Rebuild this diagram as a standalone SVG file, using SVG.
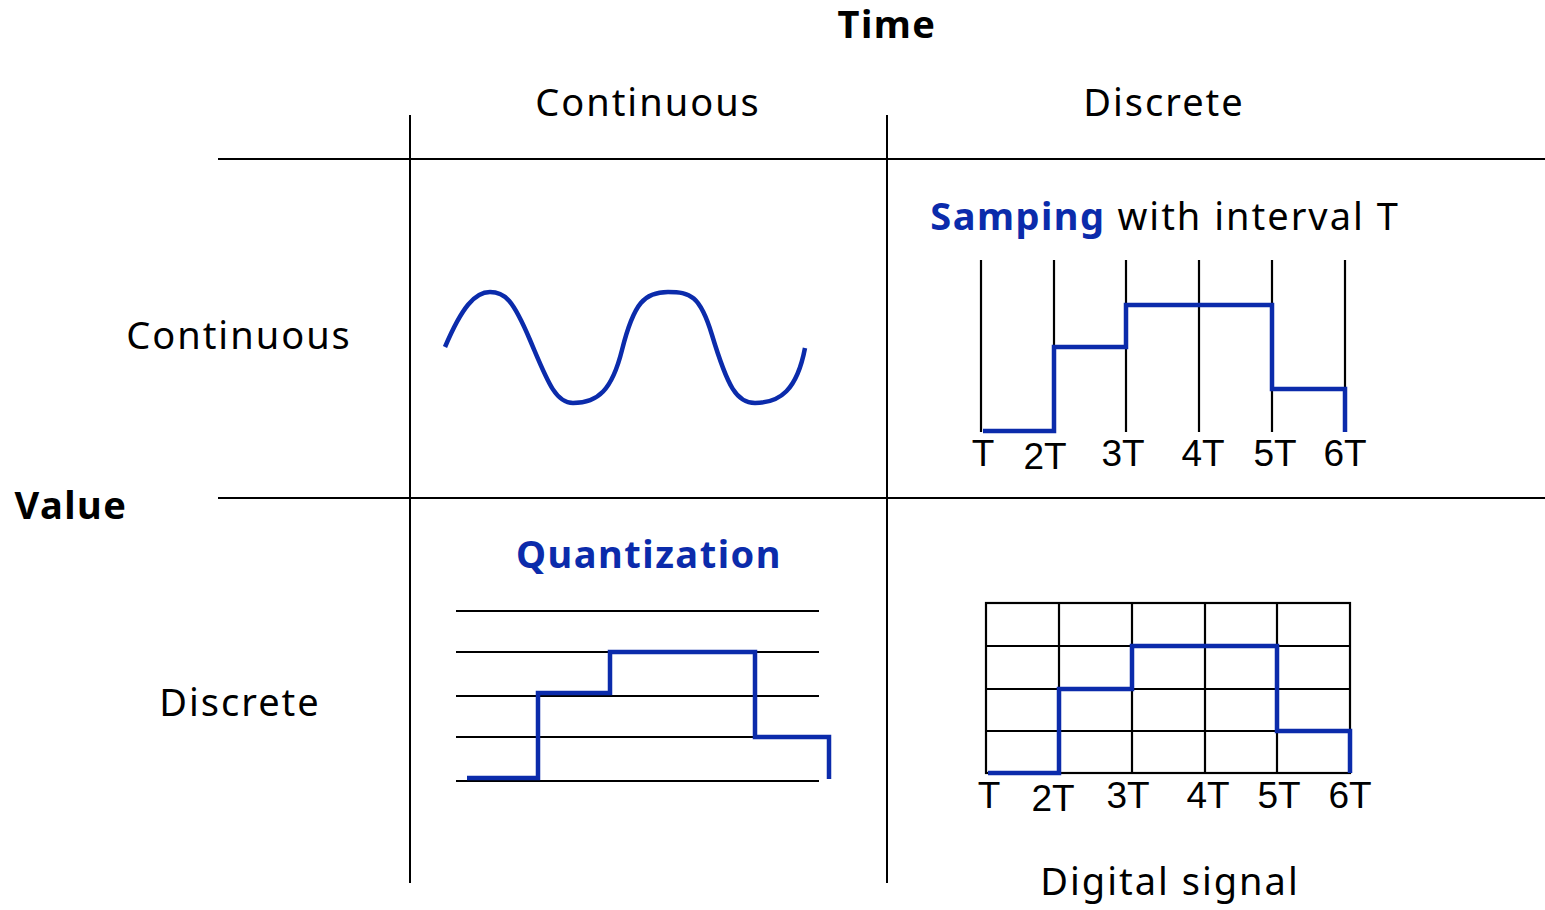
<svg xmlns="http://www.w3.org/2000/svg" width="1545" height="910" viewBox="0 0 1545 910">
<style>
.t{font-family:"Noto Sans","DejaVu Sans",sans-serif;font-size:38px;letter-spacing:2px;fill:#000;text-anchor:middle}
.b{font-weight:bold;letter-spacing:1.5px}
.blue{fill:#0b2bab}
.lbl{font-family:"Liberation Sans",Arial,sans-serif;font-size:37px;fill:#000;text-anchor:middle}
.ax{stroke:#000;stroke-width:2;fill:none}
.thin{stroke:#000;stroke-width:2.2;fill:none}
.sig{stroke:#0b2bab;stroke-width:4.5;fill:none}
</style>
<rect width="1545" height="910" fill="#fff"/>
<g id="axes">
<line class="ax" x1="218" y1="159" x2="1545" y2="159"/>
<line class="ax" x1="218" y1="498" x2="1545" y2="498"/>
<line class="ax" x1="410" y1="115" x2="410" y2="883"/>
<line class="ax" x1="887" y1="115" x2="887" y2="883"/>
</g>
<g id="headers">
<text class="t b" x="887" y="38">Time</text>
<text class="t" x="648" y="116">Continuous</text>
<text class="t" x="1164" y="116">Discrete</text>
<text class="t b" x="71" y="519">Value</text>
<text class="t" x="239" y="349">Continuous</text>
<text class="t" x="240" y="716">Discrete</text>
</g>
<g id="continuous-signal">
<path class="sig" d="M445,347 C462,307 475,292 490,292 C505,292 513,300 530,340 C547,380 555,403 573,403 C598,403 612,390 622,350 C634,302 645,292 668,292 C690,292 700,295 712,335 C728,388 737,403 755,403 C780,403 797,390 805,348"/>
</g>
<g id="sampling">
<text class="t" x="1165" y="230"><tspan class="b blue">Samping</tspan> with interval T</text>
<g class="thin">
<line x1="981" y1="260" x2="981" y2="432"/>
<line x1="1054" y1="260" x2="1054" y2="432"/>
<line x1="1126" y1="260" x2="1126" y2="432"/>
<line x1="1199" y1="260" x2="1199" y2="432"/>
<line x1="1272" y1="260" x2="1272" y2="432"/>
<line x1="1345" y1="260" x2="1345" y2="432"/>
</g>
<path class="sig" d="M983,431 H1054 V347 H1126 V305 H1272 V389 H1345 V432"/>
<text class="lbl" x="983" y="466">T</text>
<text class="lbl" x="1045" y="469">2T</text>
<text class="lbl" x="1123" y="466">3T</text>
<text class="lbl" x="1203" y="466">4T</text>
<text class="lbl" x="1275" y="466">5T</text>
<text class="lbl" x="1345" y="466">6T</text>
</g>
<g id="quantization">
<text class="t b blue" x="649" y="568">Quantization</text>
<g class="thin">
<line x1="456" y1="611" x2="819" y2="611"/>
<line x1="456" y1="652" x2="819" y2="652"/>
<line x1="456" y1="696" x2="819" y2="696"/>
<line x1="456" y1="737" x2="819" y2="737"/>
<line x1="456" y1="781" x2="819" y2="781"/>
</g>
<path class="sig" d="M467,778 H538 V693 H610 V652 H755 V737 H829 V779"/>
</g>
<g id="digital">
<g class="thin">
<rect x="986" y="603" width="364" height="170"/>
<line x1="1059" y1="603" x2="1059" y2="773"/>
<line x1="1132" y1="603" x2="1132" y2="773"/>
<line x1="1205" y1="603" x2="1205" y2="773"/>
<line x1="1277" y1="603" x2="1277" y2="773"/>
<line x1="986" y1="646" x2="1350" y2="646"/>
<line x1="986" y1="689" x2="1350" y2="689"/>
<line x1="986" y1="731" x2="1350" y2="731"/>
</g>
<path class="sig" d="M988,773 H1059 V689 H1132 V646 H1277 V731 H1350 V773"/>
<text class="lbl" x="989" y="808">T</text>
<text class="lbl" x="1053" y="811">2T</text>
<text class="lbl" x="1128" y="808">3T</text>
<text class="lbl" x="1208" y="808">4T</text>
<text class="lbl" x="1279" y="808">5T</text>
<text class="lbl" x="1350" y="808">6T</text>
<text class="t" x="1170" y="895">Digital signal</text>
</g>
</svg>
